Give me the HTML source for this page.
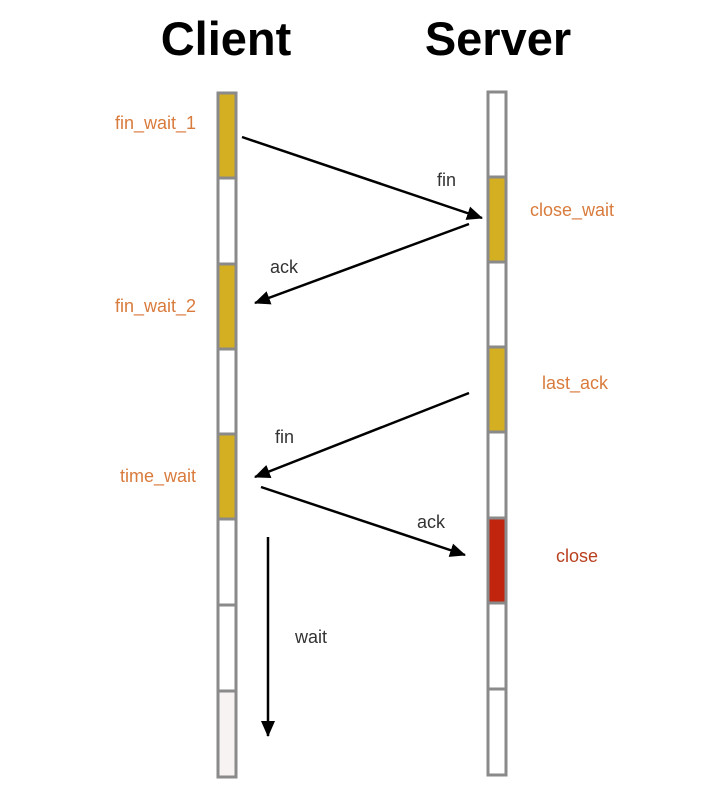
<!DOCTYPE html>
<html><head><style>
body{margin:0;background:#fff;}
svg{display:block;}
</style></head><body>
<svg width="704" height="792" xmlns="http://www.w3.org/2000/svg" font-family="Liberation Sans, sans-serif">
<defs>
<marker id="b" markerWidth="16" markerHeight="14" refX="15" refY="7" orient="auto" markerUnits="userSpaceOnUse"><path d="M0,0 L16,7 L0,14 z" fill="#000"/></marker></defs>
<text x="226" y="55" font-size="47" font-weight="bold" text-anchor="middle">Client</text>
<text x="498" y="55" font-size="47" font-weight="bold" text-anchor="middle">Server</text>
<g stroke="#8a8a8a" stroke-width="3">
<rect x="218" y="93" width="18" height="85" fill="#d5af22"/>
<rect x="218" y="178" width="18" height="86" fill="#fff"/>
<rect x="218" y="264" width="18" height="85" fill="#d5af22"/>
<rect x="218" y="349" width="18" height="85" fill="#fff"/>
<rect x="218" y="434" width="18" height="85" fill="#d5af22"/>
<rect x="218" y="519" width="18" height="86" fill="#fff"/>
<rect x="218" y="605" width="18" height="86" fill="#fff"/>
<rect x="218" y="691" width="18" height="86" fill="#f6f3f2"/>
<rect x="488" y="92" width="18" height="85" fill="#fff"/>
<rect x="488" y="177" width="18" height="85" fill="#d5af22"/>
<rect x="488" y="262" width="18" height="85" fill="#fff"/>
<rect x="488" y="347" width="18" height="85" fill="#d5af22"/>
<rect x="488" y="432" width="18" height="86" fill="#fff"/>
<rect x="488" y="518" width="18" height="85" fill="#c1250d"/>
<rect x="488" y="603" width="18" height="86" fill="#fff"/>
<rect x="488" y="689" width="18" height="86" fill="#fff"/>
</g>
<g stroke="#000" stroke-width="2.5" fill="none">
<line x1="242" y1="137" x2="482" y2="218" marker-end="url(#b)"/>
<line x1="469" y1="224" x2="255" y2="303" marker-end="url(#b)"/>
<line x1="469" y1="393" x2="255" y2="477" marker-end="url(#b)"/>
<line x1="261" y1="487" x2="465" y2="555" marker-end="url(#b)"/>
<line x1="268" y1="537" x2="268" y2="736" marker-end="url(#b)"/>
</g>
<g font-size="18" fill="#333">
<text x="437" y="186">fin</text>
<text x="270" y="273">ack</text>
<text x="275" y="443">fin</text>
<text x="417" y="528">ack</text>
<text x="295" y="643">wait</text>
</g>
<g font-size="18" fill="#d97b3c">
<text x="196" y="129" text-anchor="end">fin_wait_1</text>
<text x="196" y="312" text-anchor="end">fin_wait_2</text>
<text x="196" y="482" text-anchor="end">time_wait</text>
<text x="530" y="216">close_wait</text>
<text x="542" y="389">last_ack</text>
<text x="556" y="562" fill="#b9401f">close</text>
</g>
</svg>
</body></html>
